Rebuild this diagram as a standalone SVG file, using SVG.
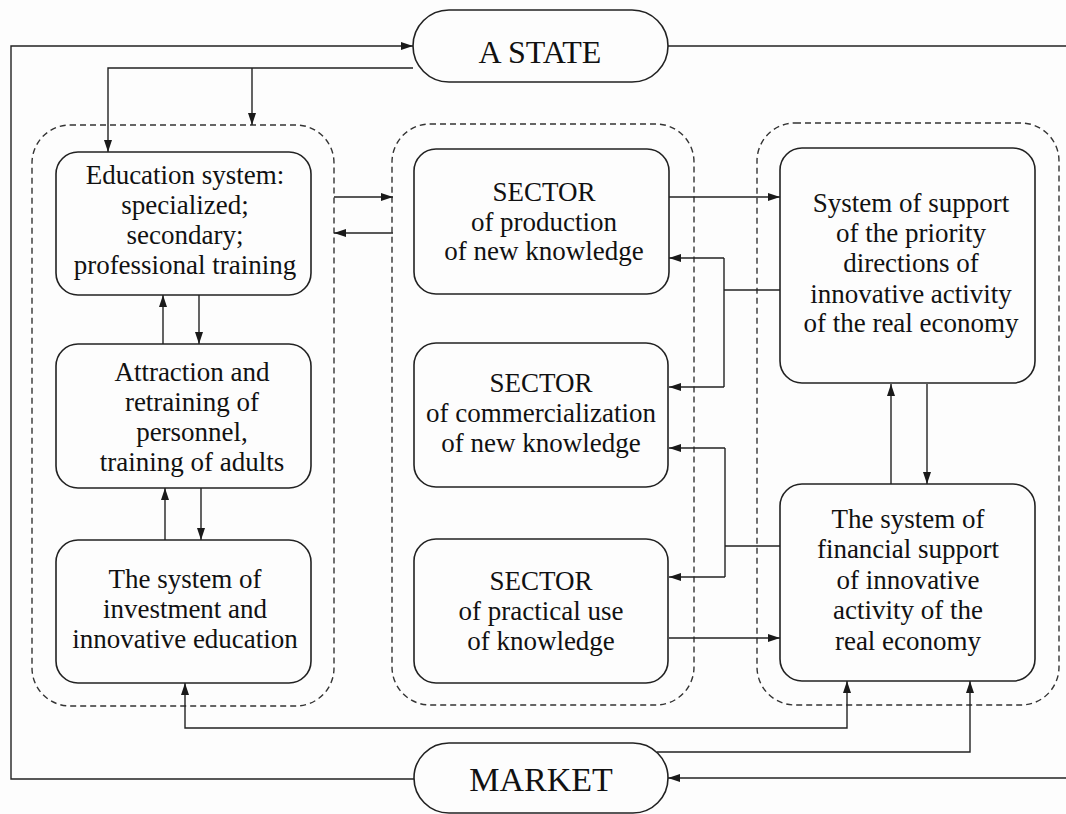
<svg xmlns="http://www.w3.org/2000/svg" width="1066" height="814" viewBox="0 0 1066 814">
<defs>
<marker id="ah" markerUnits="userSpaceOnUse" markerWidth="13" markerHeight="9" refX="12" refY="4" orient="auto-start-reverse">
<path d="M0,0 L12,4 L0,8 z" fill="#1a1a1a"/>
</marker>
<style>
.box{fill:none;stroke:#222;stroke-width:1.6}
.grp{fill:none;stroke:#333;stroke-width:1.4;stroke-dasharray:6 4}
.c{fill:none;stroke:#222;stroke-width:1.4}
.a{marker-end:url(#ah)}
.t{font-family:"Liberation Serif","Times New Roman",serif;font-size:27px;fill:#111;text-anchor:middle}
.big{font-family:"Liberation Serif","Times New Roman",serif;fill:#111;text-anchor:middle}
</style>
</defs>
<rect width="1066" height="814" fill="#fdfdfd"/>

<g id="groups">
<rect class="grp" x="32" y="125" width="302" height="581" rx="38"/>
<rect class="grp" x="392" y="124" width="302" height="581" rx="38"/>
<rect class="grp" x="757" y="123" width="302" height="582" rx="38"/>
</g>

<g id="connectors">
<path class="c a" d="M414,779 H11 V46 H413"/>
<path class="c a" d="M413,68 H108 V152"/>
<path class="c a" d="M252,68 V125"/>
<path class="c" d="M668,46 H1066"/>
<path class="c a" d="M1066,778 H668"/>
<path class="c a" d="M334,197 H393"/>
<path class="c a" d="M393,233 H334"/>
<path class="c a" d="M163,344 V295"/>
<path class="c a" d="M199,295 V344"/>
<path class="c a" d="M165,540 V488"/>
<path class="c a" d="M201,488 V540"/>
<path class="c a" d="M669,197 H780"/>
<path class="c" d="M780,290 H724"/>
<path class="c" d="M724,258 V387"/>
<path class="c a" d="M724,258 H669"/>
<path class="c a" d="M724,387 H669"/>
<path class="c" d="M780,546 H725"/>
<path class="c" d="M725,448 V577"/>
<path class="c a" d="M725,448 H669"/>
<path class="c a" d="M725,577 H669"/>
<path class="c a" d="M669,638 H780"/>
<path class="c a" d="M891,484 V384"/>
<path class="c a" d="M927,384 V484"/>
<path class="c a" d="M185,683 V728 H847 V681" style="marker-start:url(#ah)"/>
<path class="c a" d="M657,752 H970 V681"/>
</g>

<g id="state">
<rect class="box" x="413" y="10" width="255" height="72" rx="36"/>
<text class="big" x="540" y="63" font-size="32">A STATE</text>
</g>

<g id="market">
<rect class="box" x="414" y="743" width="254" height="70" rx="35"/>
<text class="big" x="541" y="791" font-size="34">MARKET</text>
</g>

<g id="education">
<rect class="box" x="56" y="152" width="255" height="143" rx="22"/>
<text class="t" x="185" y="184">Education system:</text>
<text class="t" x="185" y="214">specialized;</text>
<text class="t" x="185" y="244">secondary;</text>
<text class="t" x="185" y="274">professional training</text>
</g>

<g id="attraction">
<rect class="box" x="56" y="344" width="255" height="144" rx="22"/>
<text class="t" x="192" y="381">Attraction and</text>
<text class="t" x="192" y="411">retraining of</text>
<text class="t" x="192" y="441">personnel,</text>
<text class="t" x="192" y="471">training of adults</text>
</g>

<g id="investment">
<rect class="box" x="56" y="540" width="255" height="143" rx="22"/>
<text class="t" x="185" y="588">The system of</text>
<text class="t" x="185" y="618">investment and</text>
<text class="t" x="185" y="648">innovative education</text>
</g>

<g id="production">
<rect class="box" x="414" y="149" width="255" height="145" rx="22"/>
<text class="t" x="544" y="201">SECTOR</text>
<text class="t" x="544" y="231">of production</text>
<text class="t" x="544" y="260">of new knowledge</text>
</g>

<g id="commercialization">
<rect class="box" x="414" y="343" width="254" height="144" rx="22"/>
<text class="t" x="541" y="392">SECTOR</text>
<text class="t" x="541" y="422">of commercialization</text>
<text class="t" x="541" y="452">of new knowledge</text>
</g>

<g id="practical">
<rect class="box" x="414" y="539" width="254" height="144" rx="22"/>
<text class="t" x="541" y="590">SECTOR</text>
<text class="t" x="541" y="620">of practical use</text>
<text class="t" x="541" y="650">of knowledge</text>
</g>

<g id="support">
<rect class="box" x="780" y="148" width="255" height="235" rx="22"/>
<text class="t" x="911" y="212">System of support</text>
<text class="t" x="911" y="242">of the priority</text>
<text class="t" x="911" y="272">directions of</text>
<text class="t" x="911" y="303">innovative activity</text>
<text class="t" x="911" y="332">of the real economy</text>
</g>

<g id="financial">
<rect class="box" x="780" y="484" width="255" height="197" rx="22"/>
<text class="t" x="908" y="528">The system of</text>
<text class="t" x="908" y="558">financial support</text>
<text class="t" x="908" y="589">of innovative</text>
<text class="t" x="908" y="619">activity of the</text>
<text class="t" x="908" y="650">real economy</text>
</g>
</svg>
